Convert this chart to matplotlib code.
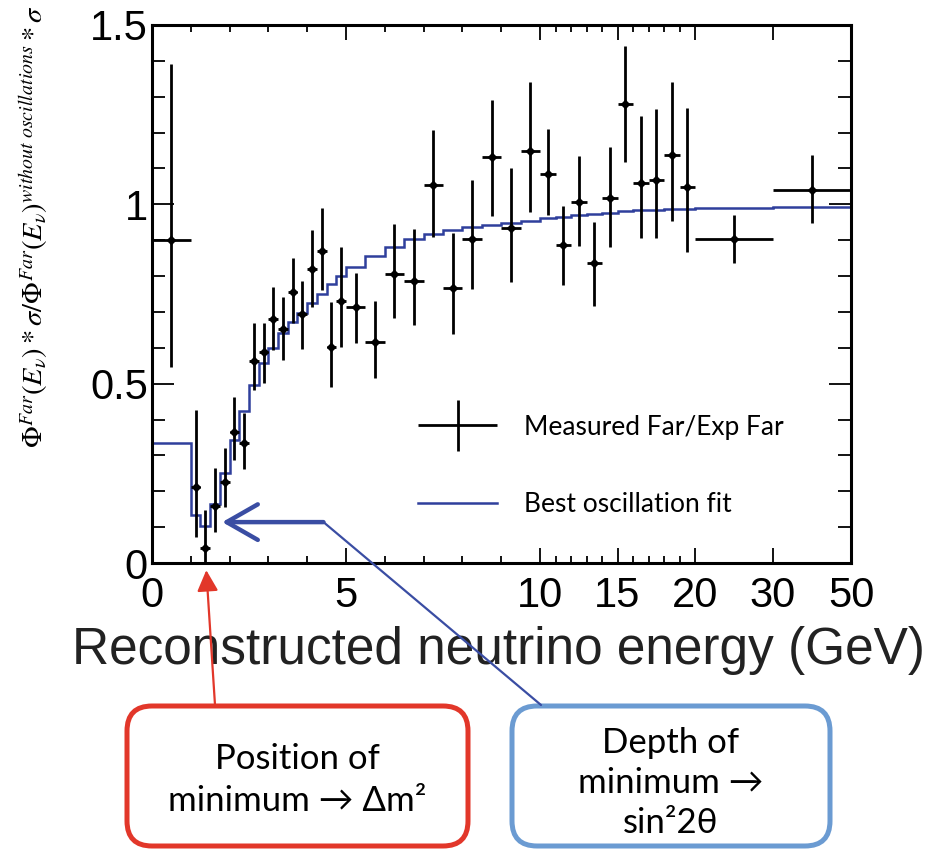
import matplotlib.pyplot as plt
import numpy as np
from matplotlib.legend_handler import HandlerErrorbar
from matplotlib.lines import Line2D
from matplotlib.patches import FancyBboxPatch, ConnectionPatch

# Bin edges of the far detector spectrum (GeV)
bin_edges = [0, 1.0, 1.25, 1.5, 1.75, 2.0, 2.25, 2.5, 2.75, 3.0, 3.25, 3.5, 3.75,
             4.0, 4.25, 4.5, 4.75, 5.0, 5.5, 6.0, 6.5, 7.0, 7.5, 8.0, 8.5, 9.0,
             9.5, 10, 11, 12, 13, 14, 15, 16, 17, 18, 19, 20, 30, 50]

# Measured Far / Exp Far, with lower and upper ends of the error bars
ratio = [0.90, 0.211, 0.041, 0.160, 0.226, 0.366, 0.334, 0.564, 0.587, 0.680,
         0.651, 0.755, 0.694, 0.820, 0.871, 0.601, 0.731, 0.713, 0.617, 0.805,
         0.787, 1.054, 0.768, 0.902, 1.133, 0.933, 1.149, 1.085, 0.887, 1.007,
         0.835, 1.017, 1.281, 1.059, 1.068, 1.137, 1.049, 0.903, 1.040]
ratio_lo = [0.546, 0.073, 0.000, 0.087, 0.157, 0.287, 0.262, 0.482, 0.503, 0.594,
            0.566, 0.669, 0.596, 0.715, 0.761, 0.490, 0.603, 0.614, 0.515, 0.682,
            0.664, 0.908, 0.638, 0.763, 0.967, 0.784, 0.979, 0.970, 0.775, 0.884,
            0.716, 0.880, 1.119, 0.905, 0.905, 0.954, 0.868, 0.835, 0.947]
ratio_hi = [1.390, 0.427, 0.148, 0.265, 0.320, 0.464, 0.418, 0.668, 0.670, 0.770,
            0.742, 0.849, 0.787, 0.928, 0.989, 0.728, 0.880, 0.808, 0.731, 0.945,
            0.930, 1.207, 0.919, 1.068, 1.291, 1.100, 1.342, 1.209, 0.995, 1.135,
            0.952, 1.159, 1.441, 1.246, 1.265, 1.342, 1.268, 0.970, 1.137]

# Best oscillation fit, one value per bin
best_fit = [0.334, 0.134, 0.104, 0.164, 0.250, 0.343, 0.424, 0.495, 0.557, 0.599,
            0.642, 0.673, 0.698, 0.724, 0.750, 0.778, 0.800, 0.826, 0.856, 0.882,
            0.902, 0.917, 0.928, 0.936, 0.942, 0.949, 0.954, 0.962, 0.966, 0.970,
            0.974, 0.977, 0.980, 0.983, 0.985, 0.987, 0.988, 0.990, 0.993]

x_major = [0, 5, 10, 15, 20, 30, 50]
x_minor = [1, 2, 3, 4, 6, 7, 8, 9, 11, 12, 13, 14, 16, 17, 18, 19]

# piecewise linear energy axis
scale_E = [0, 10, 20, 30, 50]
scale_u = [0, 388, 543, 621, 699]


def fwd(x):
    return np.interp(x, scale_E, scale_u)


def inv(u):
    return np.interp(u, scale_u, scale_E)


edges = np.array(bin_edges)
centers = (edges[:-1] + edges[1:]) / 2
half_w = (edges[1:] - edges[:-1]) / 2
ratio = np.array(ratio)
yerr = [ratio - np.array(ratio_lo), np.array(ratio_hi) - ratio]

plt.rcParams['mathtext.fontset'] = 'stix'

fig = plt.figure(figsize=(9.38, 8.52), dpi=100)
ax = fig.add_axes([0.162, 0.3392, 0.7453, 0.6315])
ax.set_xscale('function', functions=(fwd, inv))

fit_color = '#2f3f9c'
ax.stairs(best_fit, bin_edges, baseline=None, color=fit_color, lw=1.8,
          label='Best oscillation fit', zorder=2)
eb = ax.errorbar(centers, ratio, xerr=half_w, yerr=yerr, fmt='none', ecolor='black',
                 elinewidth=2.0, capsize=0, zorder=3, label='Measured Far/Exp Far')
ax.plot(centers, ratio, 'D', color='black', ms=4, zorder=4)

ax.set_xlim(0, 50)
ax.set_ylim(0, 1.5)
ax.set_xticks(x_major)
ax.set_xticks(x_minor, minor=True)
ax.set_xticklabels([str(v) for v in x_major])
ax.set_yticks([0, 0.5, 1, 1.5])
ax.set_yticks(np.arange(0, 1.5, 0.1), minor=True)
ax.set_yticklabels(['0', '0.5', '1', '1.5'])

for s in ax.spines.values():
    s.set_linewidth(2.2)
ax.tick_params(which='both', direction='in', top=True, right=True, width=1.3)
ax.tick_params(axis='x', which='major', length=10.8, pad=9)
ax.tick_params(axis='x', which='minor', length=5)
ax.tick_params(axis='y', which='major', length=15.8, pad=3)
ax.tick_params(axis='y', which='minor', length=9.4)
for lab in ax.get_xticklabels() + ax.get_yticklabels():
    lab.set_fontfamily('Liberation Sans')
    lab.set_fontsize(30)

ax.set_xlabel('Reconstructed neutrino energy (GeV)', fontsize=37,
              fontfamily='Liberation Sans', color='#222222')
ax.xaxis.set_label_coords(0.495, -0.118)
ax.set_ylabel(r'$\Phi^{Far}\left(E_{\nu}\right) * \sigma/\Phi^{Far}\left(E_{\nu}\right)^{without\ oscillations} * \sigma$',
              fontsize=20.5, va='center', ha='center')
ax.yaxis.set_label_coords(-0.168, 0.625)

leg = ax.legend(handles=[eb, Line2D([], [], color=fit_color, lw=1.8)],
                labels=['Measured Far/Exp Far', 'Best oscillation fit'],
                handler_map={type(eb): HandlerErrorbar(xerr_size=1.5, yerr_size=0.97)},
                loc='upper left', bbox_to_anchor=(0.347, 0.32), frameon=False,
                prop={'family': ['Lato', 'DejaVu Sans'], 'size': 19},
                handlelength=3.0, handletextpad=1.0, labelspacing=2.0)

# annotation boxes below the chart
box_font = ['Lato', 'DejaVu Sans']
red = '#e2372a'
blue_box = '#6b9bd2'
fig.add_artist(FancyBboxPatch((1.27, 0.06), 3.41, 1.40,
                              boxstyle='round,pad=0,rounding_size=0.25',
                              transform=fig.dpi_scale_trans, fc='white', ec=red, lw=3.6))
fig.add_artist(FancyBboxPatch((5.12, 0.06), 3.18, 1.40,
                              boxstyle='round,pad=0,rounding_size=0.25',
                              transform=fig.dpi_scale_trans, fc='white', ec=blue_box, lw=3.6))
fig.text(2.975, 0.72, 'Position of\nminimum \u2192 \u0394m\u00b2', transform=fig.dpi_scale_trans,
         ha='center', va='center', fontsize=25, family=box_font, linespacing=1.35)
fig.text(6.71, 0.69, 'Depth of\nminimum \u2192\nsin\u00b22\u03b8', transform=fig.dpi_scale_trans,
         ha='center', va='center', fontsize=25, family=box_font, linespacing=1.3)

# arrows pointing at the oscillation dip
ax.annotate('', xy=(1.4, -0.02), xycoords='data', xytext=(215, 147),
            textcoords='figure pixels', annotation_clip=False,
            arrowprops=dict(arrowstyle='-|>', color=red, lw=1.6, mutation_scale=32,
                            shrinkA=0, shrinkB=0))
ax.annotate('', xy=(1.81, 0.114), xycoords='data', xytext=(4.42, 0.114),
            textcoords='data', annotation_clip=False,
            arrowprops=dict(arrowstyle='->,head_length=0.7,head_width=0.4', color='#3a4da3',
                            lw=3.2, mutation_scale=32, shrinkA=0, shrinkB=0))
fig.add_artist(ConnectionPatch(xyA=(4.42, 0.114), coordsA=ax.transData,
                               xyB=(541, 147), coordsB='figure pixels',
                               color='#3a4da3', lw=1.6))

plt.savefig('out.png', dpi=100)
